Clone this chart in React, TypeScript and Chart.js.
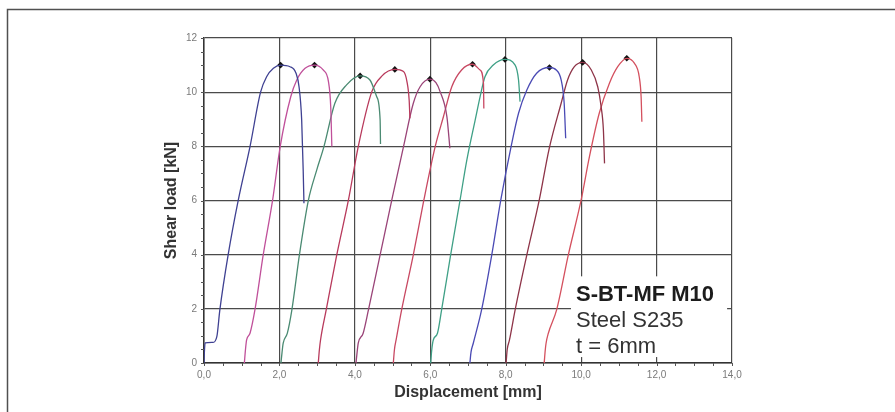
import React, { useEffect, useRef } from "react";
import { Chart, registerables } from "chart.js";

Chart.register(...registerables);

// ---- data (displacement [mm], shear load [kN]) ----
const curve1 = [[0, 0], [0.01, 0.4], [0.03, 0.74], [0.24, 0.76], [0.34, 0.97], [0.42, 1.96], [0.64, 3.99], [0.91, 6.02], [1.22, 7.99], [1.5, 10.0], [1.66, 10.57], [1.84, 10.88], [2.03, 11.0], [2.28, 10.94], [2.44, 10.7], [2.52, 10.2], [2.59, 8.97], [2.63, 7.13], [2.65, 5.9]];
const curve2 = [[1.07, 0], [1.1, 0.5], [1.13, 0.85], [1.22, 1.1], [1.35, 1.96], [1.57, 3.99], [1.82, 6.02], [2.02, 7.99], [2.3, 9.83], [2.46, 10.45], [2.68, 10.88], [2.93, 11.0], [3.16, 10.82], [3.3, 10.39], [3.36, 9.46], [3.39, 7.99]];
const curve3 = [[2.04, 0], [2.07, 0.4], [2.1, 0.73], [2.21, 1.1], [2.33, 1.96], [2.53, 3.99], [2.77, 6.02], [2.99, 7.13], [3.18, 7.99], [3.47, 9.59], [3.78, 10.27], [4.14, 10.6], [4.4, 10.45], [4.58, 9.83], [4.67, 8.97], [4.68, 8.09]];
const curve4 = [[3.03, 0], [3.06, 0.5], [3.09, 0.85], [3.24, 1.96], [3.52, 3.99], [3.83, 6.02], [4.09, 7.99], [4.45, 10.02], [4.72, 10.6], [5.06, 10.84], [5.29, 10.76], [5.38, 10.4], [5.44, 9.7], [5.46, 9.04]];
const curve5 = [[4.03, 0], [4.06, 0.4], [4.09, 0.73], [4.22, 1.1], [4.36, 1.96], [4.67, 3.99], [4.98, 6.02], [5.29, 7.99], [5.55, 9.59], [5.73, 10.2], [5.99, 10.48], [6.15, 10.35], [6.26, 10.02], [6.44, 9.1], [6.52, 7.93]];
const curve6 = [[5.02, 0], [5.05, 0.5], [5.1, 0.9], [5.24, 1.96], [5.55, 3.99], [5.83, 6.02], [6.13, 7.99], [6.35, 9.1], [6.57, 10.2], [6.83, 10.82], [7.12, 11.03], [7.32, 10.82], [7.41, 10.33], [7.42, 9.4]];
const curve7 = [[6.01, 0], [6.04, 0.5], [6.08, 0.85], [6.19, 1.1], [6.3, 1.96], [6.54, 3.99], [6.79, 6.02], [6.97, 7.5], [7.19, 8.97], [7.32, 9.83], [7.45, 10.57], [7.67, 11.0], [7.98, 11.21], [8.25, 11.0], [8.34, 10.45], [8.38, 9.65]];
const curve8 = [[7.05, 0], [7.08, 0.4], [7.14, 0.73], [7.36, 1.96], [7.63, 3.99], [7.87, 6.02], [8.16, 8.11], [8.34, 9.22], [8.56, 10.08], [8.82, 10.7], [9.16, 10.91], [9.34, 10.82], [9.47, 10.45], [9.55, 9.59], [9.59, 8.3]];
const curve9 = [[8.01, 0], [8.04, 0.5], [8.1, 0.85], [8.25, 1.96], [8.56, 3.99], [8.89, 6.02], [9.15, 7.9], [9.47, 9.59], [9.64, 10.45], [9.82, 10.94], [10.04, 11.1], [10.27, 10.82], [10.44, 10.2], [10.53, 9.46], [10.59, 8.6], [10.62, 7.37]];
const curve10 = [[9.02, 0], [9.05, 0.5], [9.07, 0.73], [9.13, 1.1], [9.35, 1.96], [9.66, 3.99], [10.0, 6.02], [10.22, 7.62], [10.48, 9.22], [10.75, 10.33], [10.97, 10.94], [11.21, 11.25], [11.41, 11.07], [11.54, 10.57], [11.59, 9.83], [11.61, 8.91]];

const curves = [curve1, curve2, curve3, curve4, curve5, curve6, curve7, curve8, curve9, curve10];
const curveColors = ["#3f4192", "#c0509a", "#4a8a72", "#b83a5c", "#9a4478", "#c84862", "#3fa086", "#4a4ab4", "#8e3448", "#d4505e"];

const peakX = [2.03, 2.93, 4.14, 5.06, 5.99, 7.12, 7.98, 9.16, 10.04, 11.21];
const peakY = [11.0, 11.0, 10.6, 10.84, 10.48, 11.03, 11.21, 10.91, 11.1, 11.25];

const xMin = 0, xMax = 14, xStep = 2;
const yMin = 0, yMax = 12, yStep = 2;
const minorStep = 0.5;

const xTitle = "Displacement [mm]";
const yTitle = "Shear load [kN]";
const noteLines = ["S-BT-MF M10", "Steel S235", "t = 6mm"];

const framePlugin = {
  id: "frame",
  beforeDraw(chart: any) {
    const ctx = chart.ctx;
    ctx.save();
    ctx.fillStyle = "#ffffff";
    ctx.fillRect(0, 0, chart.width, chart.height);
    ctx.strokeStyle = "#505050";
    ctx.lineWidth = 1.5;
    ctx.beginPath();
    ctx.moveTo(7.5, chart.height);
    ctx.lineTo(7.5, 9.5);
    ctx.lineTo(chart.width, 9.5);
    ctx.stroke();
    ctx.restore();
  },
};

const minorTickPlugin = {
  id: "minorTicks",
  afterDraw(chart: any) {
    const ctx = chart.ctx;
    const xs = chart.scales.x;
    const ys = chart.scales.y;
    const { left, bottom } = chart.chartArea;
    ctx.save();
    ctx.strokeStyle = "#555";
    ctx.lineWidth = 1;
    ctx.beginPath();
    for (let v = yMin; v <= yMax + 1e-9; v += minorStep) {
      const p = Math.round(ys.getPixelForValue(v)) + 0.5;
      ctx.moveTo(left - 3, p);
      ctx.lineTo(left, p);
    }
    for (let v = xMin; v <= xMax + 1e-9; v += minorStep) {
      const p = Math.round(xs.getPixelForValue(v)) + 0.5;
      ctx.moveTo(p, bottom);
      ctx.lineTo(p, bottom + 3);
    }
    ctx.stroke();
    ctx.restore();
  },
};

const notePlugin = {
  id: "note",
  afterDatasetsDraw(chart: any) {
    const ctx = chart.ctx;
    const xs = chart.scales.x;
    const ys = chart.scales.y;
    const boxL = xs.getPixelForValue(9.73);
    const boxR = xs.getPixelForValue(13.87);
    const boxT = ys.getPixelForValue(3.2);
    const boxB = ys.getPixelForValue(0.22);
    ctx.save();
    ctx.fillStyle = "#ffffff";
    ctx.fillRect(boxL, boxT, boxR - boxL, boxB - boxT);
    const tx = boxL + 5;
    ctx.textAlign = "left";
    ctx.textBaseline = "alphabetic";
    ctx.fillStyle = "#1c1c1c";
    ctx.font = "bold 22px 'Liberation Sans', Arial, sans-serif";
    ctx.fillText(noteLines[0], tx, boxT + 25);
    ctx.fillStyle = "#333333";
    ctx.font = "22px 'Liberation Sans', Arial, sans-serif";
    ctx.fillText(noteLines[1], tx, boxT + 50.5);
    ctx.fillText(noteLines[2], tx, boxT + 76.5);
    ctx.restore();
  },
};

export default function App() {
  const canvasRef = useRef<HTMLCanvasElement | null>(null);

  useEffect(() => {
    const canvas = canvasRef.current;
    if (!canvas) return;
    const datasets: any[] = curves.map((c, i) => ({
      type: "line",
      data: c.map(([x, y]) => ({ x, y })),
      borderColor: curveColors[i],
      backgroundColor: curveColors[i],
      borderWidth: 1.3,
      pointRadius: 0,
      fill: false,
      cubicInterpolationMode: "monotone",
    }));
    datasets.push({
      type: "scatter",
      data: peakX.map((x, i) => ({ x, y: peakY[i] })),
      pointStyle: "rectRot",
      pointRadius: 3.3,
      backgroundColor: "#111",
      borderColor: "#111",
      borderWidth: 0,
      showLine: false,
    });

    const tickFont = { family: "'Liberation Sans', Arial, sans-serif", size: 10 };
    const titleFont = { family: "'Liberation Sans', Arial, sans-serif", size: 16, weight: "bold" as const };

    const chart = new Chart(canvas, {
      type: "line",
      data: { datasets },
      options: {
        responsive: false,
        animation: false,
        devicePixelRatio: 1,
        layout: { padding: { left: 150, top: 38, right: 163, bottom: 0 } },
        plugins: { legend: { display: false }, tooltip: { enabled: false } },
        scales: {
          x: {
            type: "linear",
            min: xMin,
            max: xMax,
            ticks: {
              stepSize: xStep,
              color: "#7a7a7a",
              font: tickFont,
              padding: 6,
              maxRotation: 0,
              callback: (v: any) => Number(v).toFixed(1).replace(".", ","),
            },
            grid: { color: "#4a4a4a", lineWidth: 1.2, drawTicks: false },
            border: { color: "#333", width: 1.5 },
            title: { display: true, text: xTitle, color: "#333", font: titleFont, padding: { top: 0, bottom: 10 } },
            afterFit: (s: any) => { s.height = 49; },
          },
          y: {
            type: "linear",
            min: yMin,
            max: yMax,
            ticks: {
              stepSize: yStep,
              color: "#7a7a7a",
              font: tickFont,
              padding: 7,
              callback: (v: any) => String(v),
            },
            grid: { color: "#4a4a4a", lineWidth: 1.2, drawTicks: false },
            border: { color: "#333", width: 1.5 },
            title: { display: true, text: yTitle, color: "#333", font: titleFont, padding: { top: 12, bottom: 0 } },
            afterFit: (s: any) => { s.width = 54; },
          },
        },
      },
      plugins: [framePlugin, minorTickPlugin, notePlugin],
    });
    return () => chart.destroy();
  }, []);

  return (
    <div style={{ position: "absolute", left: 0, top: 0, width: 895, height: 412 }}>
      <canvas ref={canvasRef} width={895} height={412} style={{ display: "block", width: 895, height: 412 }} />
    </div>
  );
}
